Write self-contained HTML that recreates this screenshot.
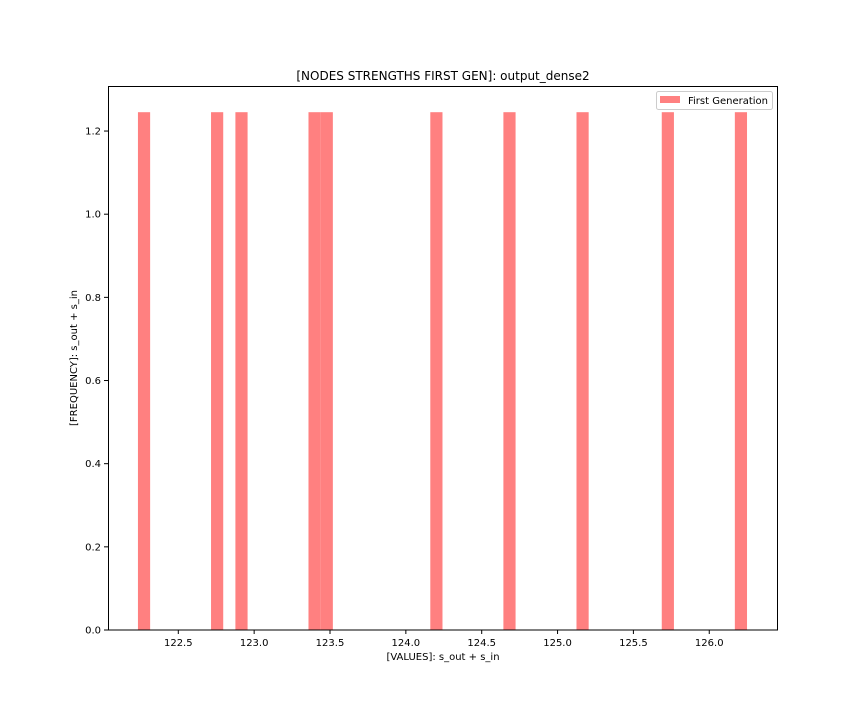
<!DOCTYPE html>
<html><head><meta charset="utf-8"><style>
html,body{margin:0;padding:0;background:#fff;}
svg{display:block;font-family:"DejaVu Sans","Liberation Sans",sans-serif;}
</style></head><body>
<svg id="chart" width="864" height="720" xmlns="http://www.w3.org/2000/svg">
<rect width="864" height="720" fill="#fff"/>
<text x="443" y="80" font-size="12" text-anchor="middle">[NODES STRENGTHS FIRST GEN]: output_dense2</text>
<g id="bars"></g>
<g id="xticks"></g>
<g id="yticks"></g>
<rect x="108.5" y="86.5" width="669" height="543.5" fill="none" stroke="#000" stroke-width="1"/>
<text x="443" y="660" font-size="10" text-anchor="middle">[VALUES]: s_out + s_in</text>
<text x="77" y="358" font-size="10" text-anchor="middle" transform="rotate(-90 77 358)">[FREQUENCY]: s_out + s_in</text>
<g>
<rect x="656.5" y="91.5" width="116" height="18" rx="2" fill="#fff" fill-opacity="0.8" stroke="#ccc"/>
<rect x="660" y="96" width="20" height="7" fill="#ff8080"/>
<text x="688" y="104" font-size="10">First Generation</text>
</g>
</svg>
<script>
const values = [122.234, 122.756, 122.917, 123.399, 123.479, 124.201, 124.683, 125.165, 125.727, 126.249];
const nBins = 50;
const xTickLabels = ["122.5","123.0","123.5","124.0","124.5","125.0","125.5","126.0"];
const yTickLabels = ["0.0","0.2","0.4","0.6","0.8","1.0","1.2"];

const NS = "http://www.w3.org/2000/svg";
const xs = v => 178.3 + (v - 122.5) * 151.7;
const ys = v => 630 - v * 415.8;
const lo = Math.min(...values), hi = Math.max(...values);
const w = (hi - lo) / nBins;
const counts = new Array(nBins).fill(0);
values.forEach(v => { let i = Math.floor((v - lo) / w + 1e-9); if (i >= nBins) i = nBins - 1; counts[i]++; });
const bars = document.getElementById('bars');
counts.forEach((c, i) => {
  if (!c) return;
  const d = c / (values.length * w);
  const r = document.createElementNS(NS, 'rect');
  const x0 = xs(lo + i * w), x1 = xs(lo + (i + 1) * w);
  r.setAttribute('x', x0); r.setAttribute('width', x1 - x0);
  r.setAttribute('y', ys(d)); r.setAttribute('height', ys(0) - ys(d));
  r.setAttribute('fill', '#ff8080');
  
  
  bars.appendChild(r);
});
const xt = document.getElementById('xticks');
xTickLabels.forEach(l => {
  const x = xs(parseFloat(l));
  const t = document.createElementNS(NS, 'line');
  t.setAttribute('x1', x); t.setAttribute('x2', x); t.setAttribute('y1', 630); t.setAttribute('y2', 634);
  t.setAttribute('stroke', '#000');
  
  
  xt.appendChild(t);
  const s = document.createElementNS(NS, 'text');
  s.setAttribute('x', x); s.setAttribute('y', 646); s.setAttribute('font-size', '10'); s.setAttribute('text-anchor', 'middle');
  s.textContent = l;
  
  
  xt.appendChild(s);
});
const yt = document.getElementById('yticks');
yTickLabels.forEach(l => {
  const y = ys(parseFloat(l));
  const t = document.createElementNS(NS, 'line');
  t.setAttribute('x1', 104); t.setAttribute('x2', 108.5); t.setAttribute('y1', y); t.setAttribute('y2', y);
  t.setAttribute('stroke', '#000');
  
  
  yt.appendChild(t);
  const s = document.createElementNS(NS, 'text');
  s.setAttribute('x', 101); s.setAttribute('y', y + 3.5); s.setAttribute('font-size', '10'); s.setAttribute('text-anchor', 'end');
  s.textContent = l;
  
  
  yt.appendChild(s);
});
</script>
</body></html>
